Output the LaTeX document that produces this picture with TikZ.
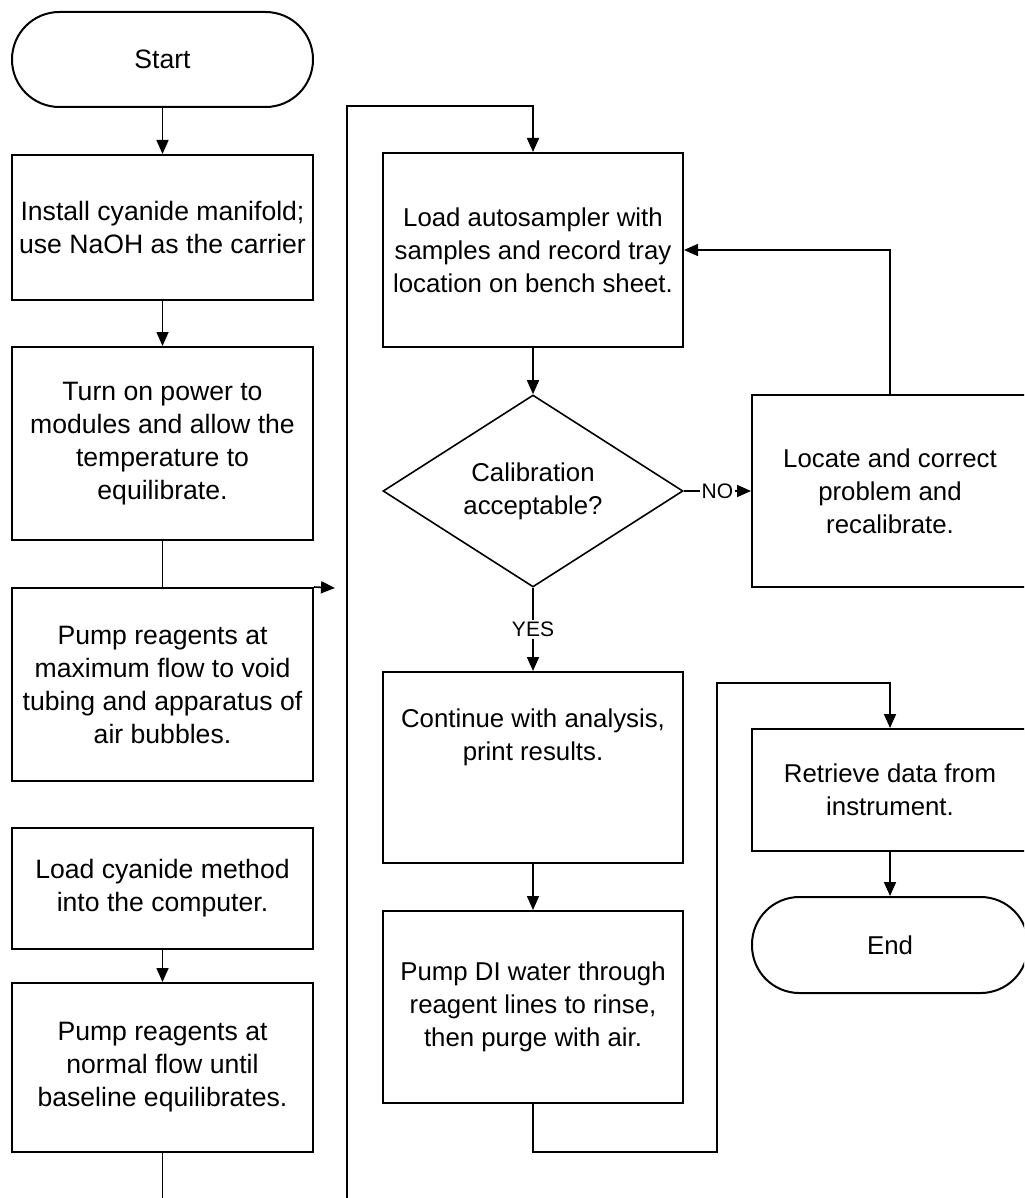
\documentclass[tikz,border=0pt]{standalone}
\usepackage{fontspec}
\setmainfont{Liberation Sans}
\usetikzlibrary{arrows.meta,shapes.geometric}
\begin{document}
\begin{tikzpicture}[x=0.5pt,y=-0.5pt,
  every node/.style={font=\fontsize{13.3}{16.5}\selectfont, align=center, inner sep=0pt},
  narrow/.style={font=\fontsize{12.9}{16.5}\selectfont},
  stepbox/.style={draw, rectangle, line width=1pt},
  termbox/.style={draw, rectangle, line width=1pt, rounded corners=23.7pt},
  decide/.style={draw, diamond, line width=0.8pt, aspect=1.5625},
  conn/.style={line width=0.8pt},
  arr/.style={conn, -{Triangle[length=7pt,width=6pt]}},
  lbl/.style={font=\fontsize{10.5}{12}\selectfont, fill=white, inner sep=1pt}
]
\useasboundingbox (0,0) rectangle (1024,1198);
\clip (0,0) rectangle (1024,1198);
\fill[white] (0,0) rectangle (1024,1198);

% left column
\node[termbox, minimum width=150.5pt, minimum height=47.5pt] (start) at (162.5,59.5) {Start};
\node[stepbox, minimum width=150.5pt, minimum height=72.5pt] (b1) at (162.5,227.5)
  {Install cyanide manifold;\\use NaOH as the carrier};
\node[stepbox, minimum width=150.5pt, minimum height=96.5pt] (b2) at (162.5,443.5)
  {Turn on power to\\modules and allow the\\temperature to\\equilibrate.};
\node[stepbox, minimum width=150.5pt, minimum height=96.5pt] (b3) at (162.5,684.5)
  {Pump reagents at\\maximum flow to void\\tubing and apparatus of\\air bubbles.};
\node[stepbox, minimum width=150.5pt, minimum height=60.5pt] (b4) at (162.5,888.5)
  {Load cyanide method\\into the computer.};
\node[stepbox, minimum width=150.5pt, minimum height=84.5pt] (b5) at (162.5,1067.5)
  {Pump reagents at\\normal flow until\\baseline equilibrates.};

% middle column
\node[stepbox, narrow, minimum width=150pt, minimum height=97pt] (auto) at (533,250)
  {Load autosampler with\\samples and record tray\\location on bench sheet.};
\node[decide, narrow, minimum width=150pt, minimum height=96pt] (cal) at (533,491)
  {Calibration\\acceptable?};
\node[stepbox, narrow, minimum width=150pt, minimum height=95.5pt] (cont) at (533,767.5)
  {Continue with analysis,\\print results.\\[16.5pt]};
\node[stepbox, narrow, minimum width=150pt, minimum height=96pt] (pdi) at (533,1007)
  {Pump DI water through\\reagent lines to rinse,\\then purge with air.};

% right column
\node[stepbox, narrow, minimum width=138pt, minimum height=96pt] (fix) at (890,491)
  {Locate and correct\\problem and\\recalibrate.};
\node[stepbox, narrow, minimum width=138pt, minimum height=61pt] (retr) at (890,790)
  {Retrieve data from\\instrument.};
\node[termbox, narrow, minimum width=138pt, minimum height=48pt] (end) at (890,945) {End};

% free ends of connectors
\coordinate (jt) at (335,588);
\coordinate (bl) at (162.5,1198);
\coordinate (bm) at (347,1198);
\coordinate (top) at (347,106);
\coordinate (lowturn) at (717,1152);
\coordinate (upturn) at (717,683);

% connectors, left column
\draw[arr] (start) -- (b1);
\draw[arr] (b1) -- (b2);
\draw[conn] (b2) -- (b3);
\draw[arr] (b3.north east) -- (jt);
\draw[arr] (b4) -- (b5);
\draw[conn] (b5) -- (bl);

% long return line into the middle column
\draw[arr] (bm) -- (top) -| (auto.north);

% connectors, middle and right columns
\draw[arr] (auto) -- (cal);
\draw[arr] (cal.east) -- node[lbl] {NO} (fix.west);
\draw[arr] (fix.north) |- (auto.east);
\draw[arr] (cal.south) -- node[lbl] {YES} (cont.north);
\draw[arr] (cont) -- (pdi);
\draw[arr] (pdi.south) |- (lowturn) -- (upturn) -| (retr.north);
\draw[arr] (retr) -- (end);
\end{tikzpicture}
\end{document}
